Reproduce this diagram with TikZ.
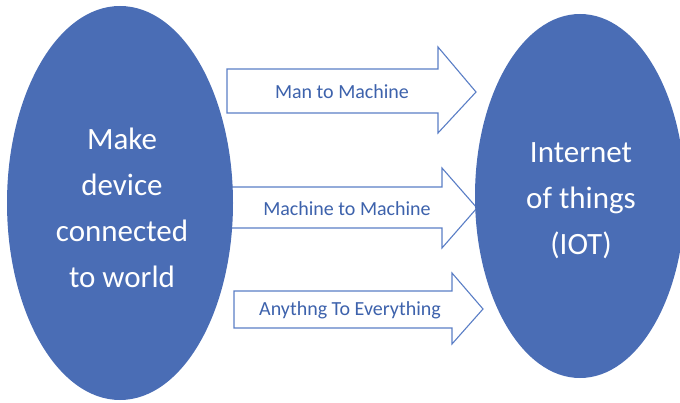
\documentclass[tikz,border=0pt]{standalone}
\usepackage{fontspec}
\setmainfont{Carlito}
\usetikzlibrary{shapes.geometric}
\definecolor{blob}{HTML}{4A6DB5}
\definecolor{edge}{HTML}{5A7EC6}
\definecolor{ink}{HTML}{3D62AC}
\tikzset{
  oval/.style={ellipse, fill=blob, draw=none, inner sep=0pt},
  big/.style={text=white, align=center, inner sep=0pt, font=\fontsize{31}{46}\selectfont},
  arr/.style={draw=edge, fill=white, line width=1.1pt, line join=miter},
  lab/.style={text=ink, font=\fontsize{20}{24}\selectfont, inner sep=0pt},
}

\begin{document}
\begin{tikzpicture}[x=1pt, y=-1pt]
  \useasboundingbox (0,0) rectangle (680,403);

  % block arrows, drawn first so the ovals sit on top
  \draw[arr] (227,69) -- (438,69) -- (438,47) -- (476,92) -- (438,133) -- (438,113) -- (227,113) -- cycle;
  \draw[arr] (228,187) -- (442,187) -- (442,168) -- (477,208) -- (442,248) -- (442,228) -- (228,228) -- cycle;
  \draw[arr] (234,291) -- (452,291) -- (452,273) -- (483,309) -- (452,344) -- (452,328) -- (234,328) -- cycle;
  \node[lab] (m2m) at (342,92) {Man to Machine};
  \node[lab] (mach) at (347,209) {Machine to Machine};
  \node[lab] (any) at (350,310) {Anythng To Everything};

  % the two ovals and their text
  \node[oval, minimum width=226pt, minimum height=394pt] (dev) at (120,203) {};
  \node[oval, minimum width=210pt, minimum height=364pt] (iot) at (580,196) {};
  \node[big] (devtxt) at ([xshift=2pt, yshift=-5pt]dev.center) {Make\\device\\connected\\to world};
  \node[big] (iottxt) at ([xshift=1pt, yshift=-5pt]iot.center) {Internet\\of things\\(IOT)};
\end{tikzpicture}
\end{document}
